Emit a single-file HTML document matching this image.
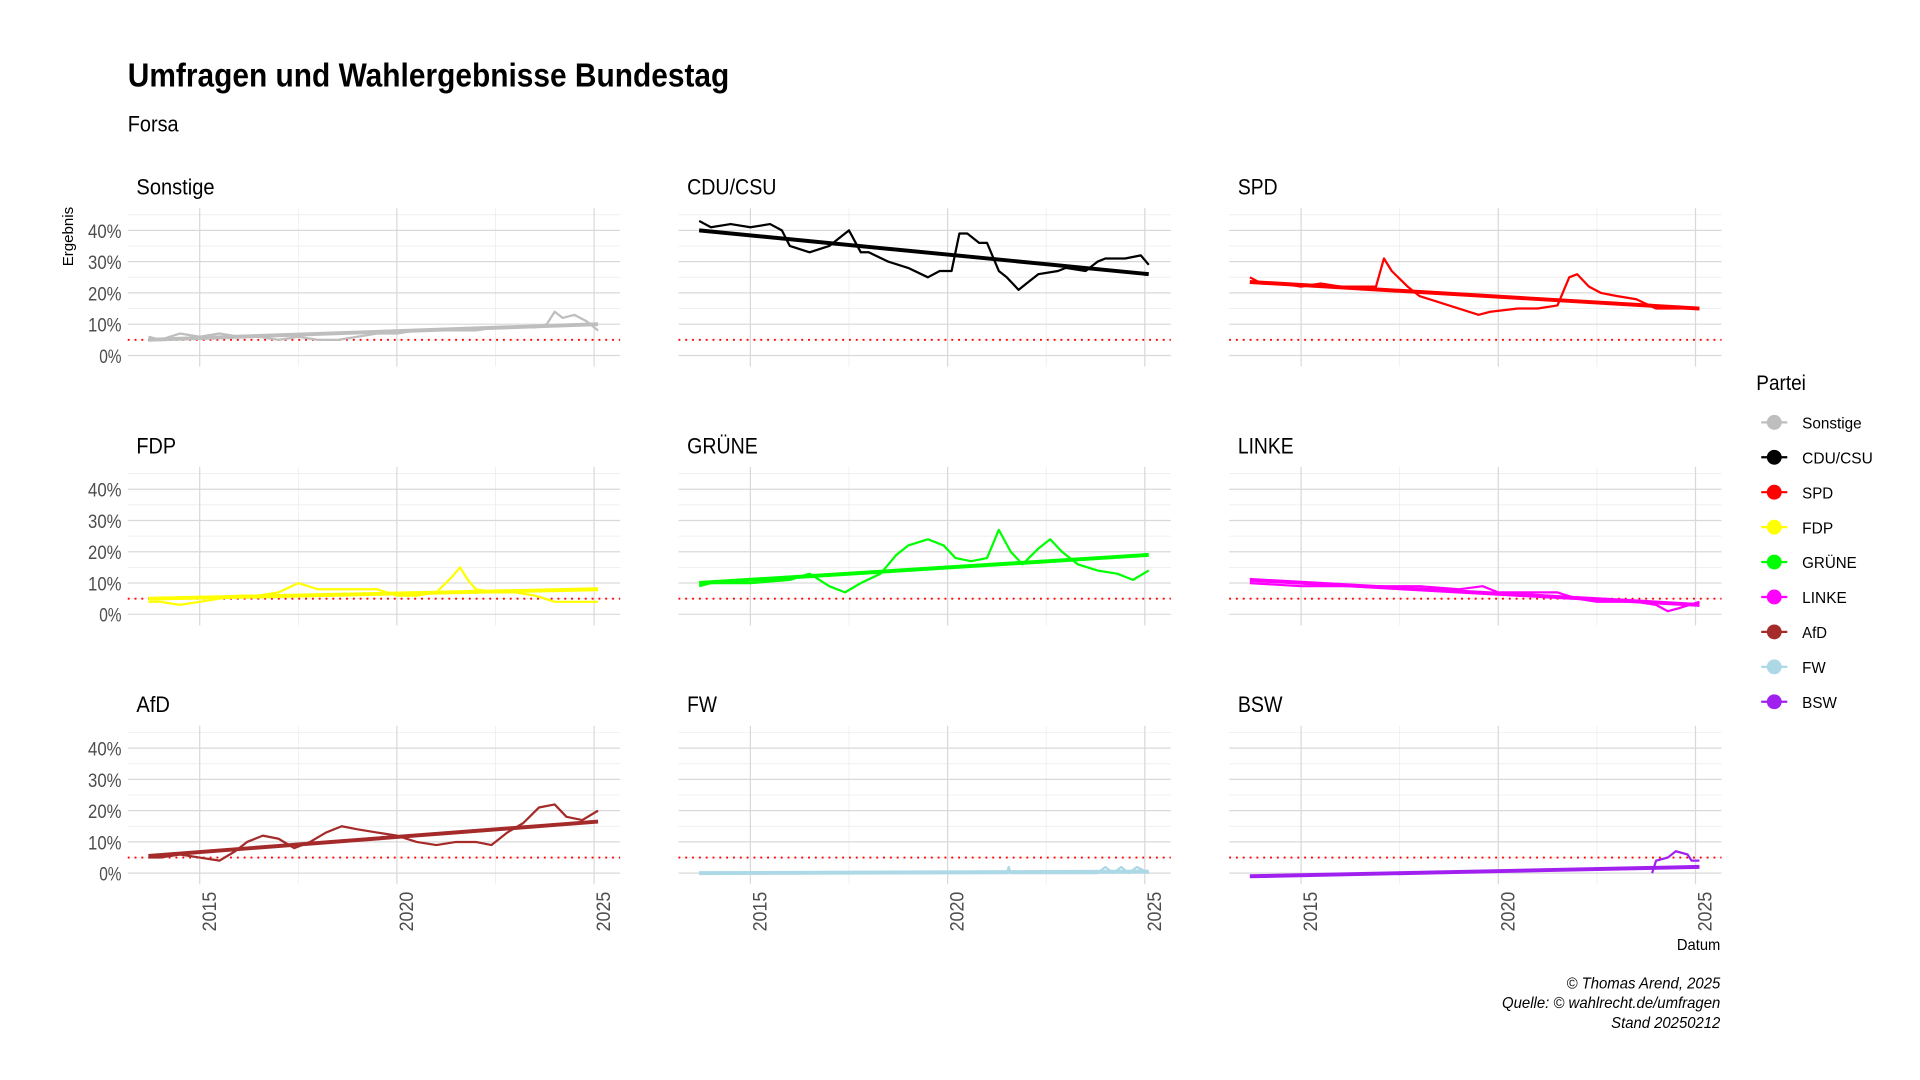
<!DOCTYPE html>
<html><head><meta charset="utf-8"><style>
html,body{margin:0;padding:0;background:#fff;overflow:hidden}
svg{display:block}
text{font-family:"Liberation Sans",sans-serif}
</style></head>
<body>
<svg id="chart" xmlns="http://www.w3.org/2000/svg" width="1920" height="1080" viewBox="0 0 1548 872" preserveAspectRatio="none">
<rect width="1548" height="872" fill="#fff"/>
<text x="103" y="70" font-size="27" font-weight="bold" textLength="485" lengthAdjust="spacingAndGlyphs">Umfragen und Wahlergebnisse Bundestag</text>
<text x="103" y="106" font-size="18" textLength="41" lengthAdjust="spacingAndGlyphs">Forsa</text>
<text transform="translate(59,191) rotate(-90)" text-anchor="middle" font-size="12" textLength="48" lengthAdjust="spacingAndGlyphs">Ergebnis</text>
<text x="1387" y="767" text-anchor="end" font-size="13" textLength="35" lengthAdjust="spacingAndGlyphs">Datum</text>
<g id="panels"></g>
<g id="legend">
<text x="1416" y="315" font-size="17" textLength="40" lengthAdjust="spacingAndGlyphs">Partei</text>
</g>
<g font-style="italic" font-size="13" text-anchor="end">
<text x="1387" y="798" textLength="124" lengthAdjust="spacingAndGlyphs">© Thomas Arend, 2025</text>
<text x="1387" y="814" textLength="176" lengthAdjust="spacingAndGlyphs">Quelle: © wahlrecht.de/umfragen</text>
<text x="1387" y="830" textLength="88" lengthAdjust="spacingAndGlyphs">Stand 20250212</text>
</g>
</svg>
<script>
const parties = ["Sonstige","CDU/CSU","SPD","FDP","GRÜNE","LINKE","AfD","FW","BSW"];
const colors = ["#bebebe","#000000","#ff0000","#ffff00","#00ff00","#ff00ff","#a52a2a","#add8e6","#a020f0"];
const yTicks = [0,10,20,30,40];
const yTickLabels = ["0%","10%","20%","30%","40%"];
const xTicks = [2015,2020,2025];
const threshold = 5;
const sonstigeT = [2013.7,2014,2014.5,2015,2015.5,2016,2016.5,2017,2017.5,2018,2018.5,2019,2019.5,2020,2020.5,2021,2021.5,2022,2022.5,2023,2023.5,2023.8,2024,2024.2,2024.5,2024.8,2025.1];
const sonstigeV = [6,5,7,6,7,6,6,5,6,5,5,6,7,7,8,8,8,8,9,9,9,10,14,12,13,11,8];
const cduT = [2013.7,2014,2014.5,2015,2015.5,2015.8,2016,2016.5,2017,2017.3,2017.5,2017.8,2018,2018.5,2019,2019.5,2019.8,2020.1,2020.3,2020.5,2020.8,2021,2021.3,2021.5,2021.8,2022,2022.3,2022.8,2023,2023.5,2023.8,2024,2024.5,2024.9,2025.1];
const cduV = [43,41,42,41,42,40,35,33,35,38,40,33,33,30,28,25,27,27,39,39,36,36,27,25,21,23,26,27,28,27,30,31,31,32,29];
const spdT = [2013.7,2014,2014.5,2015,2015.5,2016,2016.5,2016.9,2017.1,2017.3,2017.7,2018,2018.5,2019,2019.5,2019.8,2020.5,2021,2021.5,2021.8,2022,2022.3,2022.6,2023,2023.5,2024,2024.5,2025.1];
const spdV = [25,23,23,22,23,22,22,22,31,27,22,19,17,15,13,14,15,15,16,25,26,22,20,19,18,15,15,15];
const fdpT = [2013.7,2014,2014.5,2015,2015.5,2016,2016.5,2017,2017.5,2018,2018.5,2019,2019.5,2020,2020.5,2021,2021.4,2021.6,2021.8,2022,2022.5,2023,2023.5,2024,2024.5,2025.1];
const fdpV = [4,4,3,4,5,6,6,7,10,8,8,8,8,6,6,7,12,15,11,8,7,7,6,4,4,4];
const grueneT = [2013.7,2014,2015,2016,2016.5,2017,2017.4,2017.8,2018.3,2018.7,2019,2019.5,2019.9,2020.2,2020.6,2021,2021.3,2021.6,2021.9,2022.3,2022.6,2022.9,2023.3,2023.8,2024.3,2024.7,2025.1];
const grueneV = [9,10,10,11,13,9,7,10,13,19,22,24,22,18,17,18,27,20,16,21,24,20,16,14,13,11,14];
const linkeT = [2013.7,2015,2016,2017,2018,2019,2019.6,2020,2021,2021.5,2022,2022.5,2023,2023.5,2024,2024.3,2024.6,2025.1];
const linkeV = [10,9,9,9,9,8,9,7,7,7,5,4,4,4,3,1,2,4];
const afdT = [2013.7,2014,2014.5,2015,2015.5,2015.9,2016.2,2016.6,2017,2017.4,2017.8,2018.2,2018.6,2019,2019.5,2020,2020.5,2021,2021.5,2022,2022.4,2022.8,2023.2,2023.6,2024,2024.3,2024.7,2025.1];
const afdV = [5,5,6,5,4,7,10,12,11,8,10,13,15,14,13,12,10,9,10,10,9,13,16,21,22,18,17,20];
const fwT = [2013.7,2017,2021.5,2021.55,2021.6,2023.8,2024,2024.2,2024.4,2024.6,2024.8,2025.1];
const fwV = [0,0,0,2,0,0,2,0,2,0,2,0];
const bswT = [2023.9,2024.0,2024.3,2024.5,2024.8,2024.9,2025.1];
const bswV = [0,4,5,7,6,4,4];
const seriesT = [sonstigeT,cduT,spdT,fdpT,grueneT,linkeT,afdT,fwT,bswT];
const seriesV = [sonstigeV,cduV,spdV,fdpV,grueneV,linkeV,afdV,fwV,bswV];
const trendStart = [5,40,23.5,5,10,11,5.5,0,-1];
const trendEnd = [10,26,15,8,19,3,16.5,0.5,2];
const trendT0 = 2013.7, trendT1 = 2025.1;
const stripW = [63,72,32,32,57,45,27,24,36];
const legendW = [48,57,25,25,44,36,20,19,28];

const NS = "http://www.w3.org/2000/svg";
const panelsG = document.getElementById('panels');
function mk(tag, attrs, parent){const e=document.createElementNS(NS,tag);for(const k in attrs)e.setAttribute(k,attrs[k]);parent.appendChild(e);return e;}

parties.forEach((p,i)=>{
  const col=i%3,row=Math.floor(i/3);
  const left=103+col*444, right=left+397;
  const y0=287+row*209;
  const xs=t=>left+58+(t-2015)*31.8;
  const ys=v=>y0-v*2.525;
  const top=168+row*209,bottom=296+row*209;
  const g=mk('g',{},panelsG);
  
  
  [5,15,25,35,45].forEach(v=>{const l=mk('line',{x1:left,x2:right,y1:ys(v),y2:ys(v),stroke:'#ebebeb','stroke-width':0.6},g);
    });
  [2017.5,2022.5].forEach(t=>{const l=mk('line',{x1:xs(t),x2:xs(t),y1:top,y2:bottom,stroke:'#ebebeb','stroke-width':0.6},g);
    });
  yTicks.forEach((v,k)=>{const l=mk('line',{x1:left,x2:right,y1:ys(v),y2:ys(v),stroke:'#d9d9d9','stroke-width':1},g);
    
    if(col===0){const tx=mk('text',{x:left-5,y:ys(v)+6,'text-anchor':'end','font-size':16,fill:'#4d4d4d',textLength:(yTickLabels[k].length*9),lengthAdjust:'spacingAndGlyphs'},g);
      tx.textContent=yTickLabels[k];
      }
  });
  xTicks.forEach(t=>{const l=mk('line',{x1:xs(t),x2:xs(t),y1:top,y2:bottom,stroke:'#d9d9d9','stroke-width':1},g);
    
    if(row===2){const tx=mk('text',{transform:`translate(${xs(t)+13},${bottom+6}) rotate(-90)`,'text-anchor':'end','font-size':16,fill:'#4d4d4d',textLength:32,lengthAdjust:'spacingAndGlyphs'},g);
      tx.textContent=t;
      }
  });
  const st=mk('text',{x:left+7,y:top-11,'font-size':18,textLength:stripW[i],lengthAdjust:'spacingAndGlyphs'},g);
  st.textContent=p;
  
  const th=mk('line',{x1:left,x2:right,y1:ys(threshold),y2:ys(threshold),stroke:'#ff0000','stroke-width':1.5,'stroke-dasharray':'1.5 4'},g);
  
  const T=seriesT[i],V=seriesV[i];
  const d=T.map((t,k)=>(k?'L':'M')+xs(t).toFixed(1)+','+ys(V[k]).toFixed(1)).join('');
  const pl=mk('path',{d:d,fill:'none',stroke:colors[i],'stroke-width':1.8,'stroke-linejoin':'round'},g);
  
  const tr=mk('line',{x1:xs(trendT0),y1:ys(trendStart[i]),x2:xs(trendT1),y2:ys(trendEnd[i]),stroke:colors[i],'stroke-width':3.2},g);
  
});

const lg=document.getElementById('legend');
parties.forEach((p,i)=>{
  const y=341+i*28.2;
  const g=mk('g',{},lg);
  
  mk('line',{x1:1420,x2:1441,y1:y,y2:y,stroke:colors[i],'stroke-width':1.8},g);
  mk('circle',{cx:1430.5,cy:y,r:6,fill:colors[i]},g);
  const t=mk('text',{x:1453,y:y+5,'font-size':13,textLength:legendW[i],lengthAdjust:'spacingAndGlyphs'},g);
  t.textContent=p;
});
</script>
</body></html>
